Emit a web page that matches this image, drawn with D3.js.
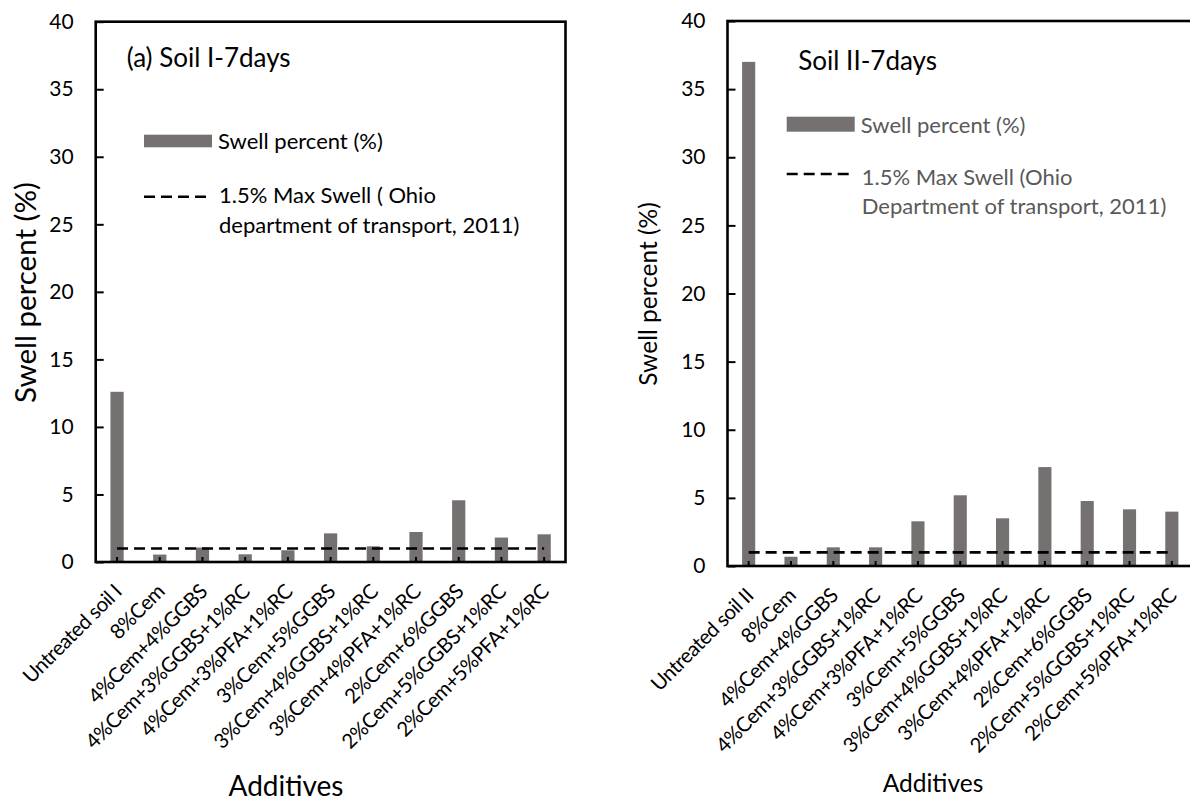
<!DOCTYPE html>
<html>
<head>
<meta charset="utf-8">
<script src="https://cdn.jsdelivr.net/npm/d3@7"></script>
<style>
  html, body { margin: 0; padding: 0; background: #ffffff; }
  svg { display: block; font-family: Lato, "Open Sans", sans-serif; }
</style>
</head>
<body>
<svg id="chart" width="1190" height="802"></svg>
<script>
// Additive mixes tested on each soil
const categoriesSoilI = ["Untreated soil I", "8%Cem", "4%Cem+4%GGBS", "4%Cem+3%GGBS+1%RC",
  "4%Cem+3%PFA+1%RC", "3%Cem+5%GGBS", "3%Cem+4%GGBS+1%RC", "3%Cem+4%PFA+1%RC",
  "2%Cem+6%GGBS", "2%Cem+5%GGBS+1%RC", "2%Cem+5%PFA+1%RC"];
const categoriesSoilII = ["Untreated soil II", "8%Cem", "4%Cem+4%GGBS", "4%Cem+3%GGBS+1%RC",
  "4%Cem+3%PFA+1%RC", "3%Cem+5%GGBS", "3%Cem+4%GGBS+1%RC", "3%Cem+4%PFA+1%RC",
  "2%Cem+6%GGBS", "2%Cem+5%GGBS+1%RC", "2%Cem+5%PFA+1%RC"];

// Swell percent (%) after 7 days
const swellSoilI  = [12.6, 0.55, 1.07, 0.57, 0.87, 2.12, 1.16, 2.22, 4.57, 1.81, 2.05];
const swellSoilII = [37.0, 0.68, 1.37, 1.37, 3.28, 5.19, 3.5, 7.26, 4.77, 4.16, 3.99];

// Reference swell limit line
const limitSoilI  = [1.0];
const limitSoilII = [1.0];

// Axis ticks
const yTicks = [0, 5, 10, 15, 20, 25, 30, 35, 40];
const yDomain = [0, 40];

// Texts
const titleSoilI = "(a) Soil I-7days";
const titleSoilII = "Soil II-7days";
const yLabel = "Swell percent (%)";
const xLabel = "Additives";
const legendBarLabel = "Swell percent (%)";
const legendLineSoilI = ["1.5% Max Swell ( Ohio", "department of transport, 2011)"];
const legendLineSoilII = ["1.5% Max Swell (Ohio", "Department of transport, 2011)"];

const BAR_COLOR = "#767171";
const svg = d3.select("#chart");

function drawPanel(p) {
  const g = svg.append("g");
  const x = d3.scaleBand()
    .domain(p.categories)
    .range([p.left, p.right])
    .paddingInner(0.69)
    .paddingOuter(0.345);
  const y = d3.scaleLinear().domain(yDomain).range([p.bottom, p.top]);
  const cx = d => x(d) + x.bandwidth() / 2;

  // bars
  g.append("g").selectAll("rect")
    .data(p.categories.map((c, i) => ({ c, v: p.values[i] })))
    .join("rect")
    .attr("x", d => x(d.c))
    .attr("y", d => y(d.v))
    .attr("width", x.bandwidth())
    .attr("height", d => y(0) - y(d.v))
    .attr("fill", BAR_COLOR);

  // limit line across the category centres
  const first = p.categories[0], last = p.categories[p.categories.length - 1];
  g.append("g").selectAll("line")
    .data(p.limit)
    .join("line")
    .attr("x1", cx(first)).attr("x2", cx(last))
    .attr("y1", d => y(d)).attr("y2", d => y(d))
    .attr("stroke", "#000").attr("stroke-width", 2.6)
    .attr("stroke-dasharray", "11,6");

  // y axis with inward ticks
  const yAxis = d3.axisLeft(y).tickValues(yTicks).tickSize(-8).tickPadding(22);
  const ya = g.append("g").attr("transform", `translate(${p.left},0)`).call(yAxis);
  ya.select(".domain").remove();
  ya.selectAll(".tick line").attr("stroke", "#000").attr("stroke-width", 2);
  ya.selectAll(".tick text")
    .attr("font-size", 21).attr("font-family", "Lato, sans-serif")
    .attr("fill", "#000");

  // x axis: inward ticks at category centres, rotated labels
  const xAxis = d3.axisBottom(x).tickSize(-5).tickFormat("");
  const xa = g.append("g").attr("transform", `translate(0,${p.bottom})`).call(xAxis);
  xa.select(".domain").remove();
  xa.selectAll(".tick line").attr("stroke", "#000").attr("stroke-width", 2);

  g.append("g").selectAll("text")
    .data(p.categories)
    .join("text")
    .attr("transform", d => `translate(${cx(d) + 6},${p.bottom + 31}) rotate(-45)`)
    .attr("text-anchor", "end")
    .attr("font-size", 20.5)
    .attr("letter-spacing", -0.5)
    .attr("fill", "#000")
    .text(d => d);

  // plot frame
  g.append("rect")
    .attr("x", p.left).attr("y", p.top)
    .attr("width", p.right - p.left).attr("height", p.bottom - p.top)
    .attr("fill", "none").attr("stroke", "#000").attr("stroke-width", 2.6);

  // title
  g.append("text")
    .attr("x", p.titleX).attr("y", p.titleY)
    .attr("font-size", 26).attr("fill", "#000")
    .text(p.title);

  // legend
  const lg = g.append("g").attr("transform", `translate(${p.legX},${p.legY})`);
  lg.append("rect").attr("x", 0).attr("y", 0).attr("width", 68).attr("height", p.legRectH)
    .attr("fill", BAR_COLOR);
  lg.append("text").attr("x", 74).attr("y", p.legRectH + 1.5)
    .attr("font-size", 22).attr("fill", p.legendColor).text(legendBarLabel);
  lg.append("line").attr("x1", 0).attr("x2", 67)
    .attr("y1", p.legLineDy).attr("y2", p.legLineDy)
    .attr("stroke", "#000").attr("stroke-width", 2.6).attr("stroke-dasharray", "11,6");
  lg.append("g").selectAll("text")
    .data(p.legendLine)
    .join("text")
    .attr("x", 75)
    .attr("y", (d, i) => p.legLineDy + p.legTextDy + i * 29.5)
    .attr("font-size", 22).attr("fill", p.legendColor)
    .text(d => d);

  // axis titles
  g.append("text")
    .attr("transform", `translate(${p.yLabelX},${p.yLabelY}) rotate(-90)`)
    .attr("text-anchor", "middle")
    .attr("font-size", p.yLabelSize).attr("fill", "#000")
    .text(yLabel);
  g.append("text")
    .attr("x", p.xLabelX).attr("y", p.xLabelY)
    .attr("text-anchor", "middle")
    .attr("font-size", p.xLabelSize).attr("fill", "#000")
    .text(xLabel);
}

drawPanel({
  categories: categoriesSoilI, values: swellSoilI, limit: limitSoilI,
  left: 95.7, right: 565.5, top: 21.7, bottom: 562,
  title: titleSoilI, titleX: 126.7, titleY: 66.7,
  legX: 144, legY: 134.7, legRectH: 12.6, legLineDy: 62, legTextDy: 6.6,
  legendLine: legendLineSoilI, legendColor: "#000",
  yLabelX: 36, yLabelY: 292.5, yLabelSize: 29.5,
  xLabelX: 286, xLabelY: 796, xLabelSize: 28
});

drawPanel({
  categories: categoriesSoilII, values: swellSoilII, limit: limitSoilII,
  left: 727.5, right: 1193, top: 21, bottom: 566,
  title: titleSoilII, titleX: 798.3, titleY: 70,
  legX: 786.7, legY: 116.7, legRectH: 15, legLineDy: 57.3, legTextDy: 11,
  legendLine: legendLineSoilII, legendColor: "#595959",
  yLabelX: 657, yLabelY: 294, yLabelSize: 24.5,
  xLabelX: 933, xLabelY: 792, xLabelSize: 24.5
});
</script>
</body>
</html>
